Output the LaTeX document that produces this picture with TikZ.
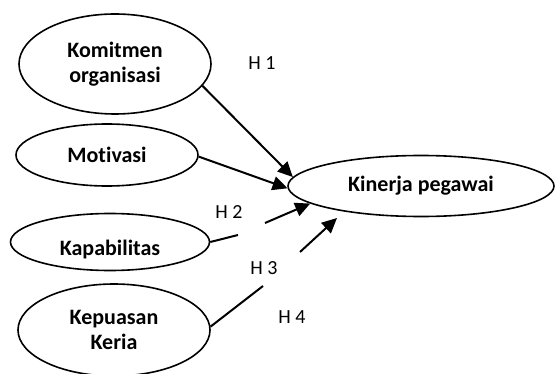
\documentclass[tikz,border=0pt]{standalone}
\usepackage{fontspec}
\setmainfont{Carlito}[Ligatures=NoCommon]
\usetikzlibrary{shapes.geometric,arrows.meta}

\tikzset{
  var/.style={draw, ellipse, line width=1.6pt, inner sep=0pt, align=center,
    font=\fontsize{22}{25}\selectfont\bfseries},
  effect/.style={line width=2pt, -{Triangle[length=15pt,width=14pt]}},
  link/.style={line width=2pt},
  hyp/.style={font=\fontsize{20}{24}\selectfont}
}

\begin{document}
\begin{tikzpicture}[x=1pt,y=-1pt]
\useasboundingbox (0,0) rectangle (556,374);

\node[var, minimum width=192, minimum height=100] (komitmen) at (115,64) {Komitmen\\organisasi};
\node[var, minimum width=182, minimum height=62] (motivasi) at (107,155) {Motivasi};
\node[var, minimum width=199, minimum height=57] (kapabilitas) at (110,242) {\raisebox{-13pt}[0pt][0pt]{Kapabilitas}};
\node[var, minimum width=192, minimum height=92] (kepuasan) at (114,330) {Kepuasan\\Keria};
\node[var, minimum width=266, minimum height=61] (kinerja) at (421,186) {Kinerja pegawai};

% labels of the hypotheses
\node[hyp] (h1) at (262,63) {H 1};
\node[hyp] (h2) at (229,212) {H 2};
\node[hyp] (h3) at (264,268) {H 3};
\node[hyp] (h4) at (292,317) {H 4};

% broken lines
\coordinate (kap1) at (238,235); \coordinate (kap2) at (265,223);
\coordinate (kep1) at (263,286); \coordinate (kep2) at (300,252);
\coordinate (kepTip) at (337,218);

\draw[effect] (komitmen.-14) -- (kinerja.176);
\draw[effect] (motivasi.-1) -- (kinerja.181);
\draw[link] (kapabilitas.east) -- (kap1);
\draw[effect] (kap2) -- (kinerja.189);
\draw[link] (kepuasan.2) -- (kep1);
\draw[effect] (kep2) -- (kepTip);
\end{tikzpicture}
\end{document}
